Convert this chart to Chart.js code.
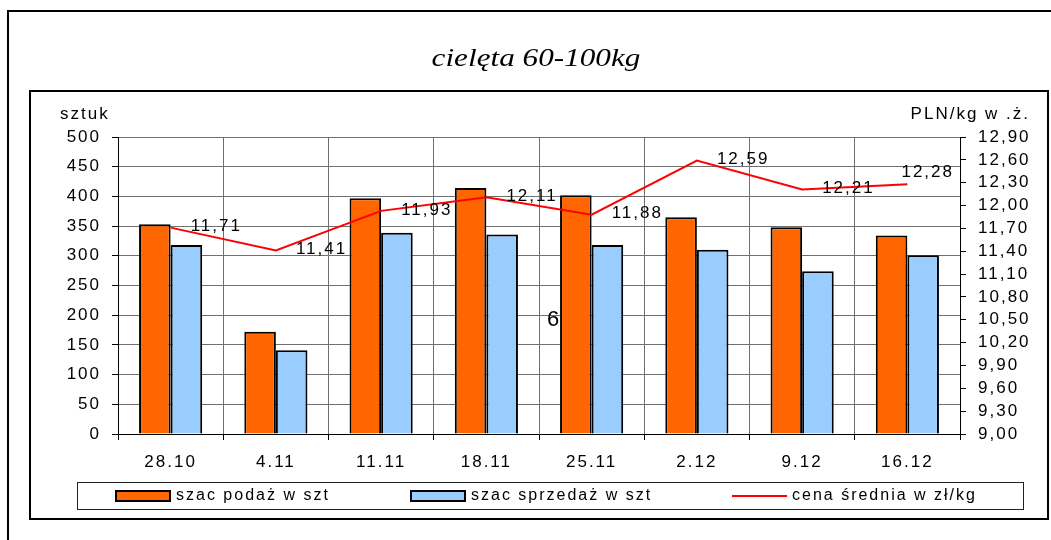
<!DOCTYPE html>
<html>
<head>
<meta charset="utf-8">
<script src="https://cdn.jsdelivr.net/npm/chart.js@4/dist/chart.umd.min.js"></script>
<style>
  html, body { margin: 0; padding: 0; background: #fff; overflow: hidden; }
  body { width: 1051px; height: 540px; position: relative; }
  .frame { position: absolute; box-sizing: border-box; border: 2px solid #000; }
  #outer { left: 7px; top: 10px; width: 1100px; height: 600px; }
  #inner { left: 29px; top: 90px; width: 1020px; height: 430px; }
  #chart { position: absolute; left: 0; top: 0; }
</style>
</head>
<body>
<div class="frame" id="outer"></div>
<div class="frame" id="inner"></div>
<canvas id="chart" width="1051" height="540"></canvas>
<script>
const weeks = ['28.10', '4.11', '11.11', '18.11', '25.11', '2.12', '9.12', '16.12'];
const supply = [353, 172, 397, 414, 402, 365, 348, 334];
const sales = [318, 141, 339, 336, 318, 310, 274, 301];
const price = [11.71, 11.41, 11.93, 12.11, 11.88, 12.59, 12.21, 12.28];
const countTicks = [0, 50, 100, 150, 200, 250, 300, 350, 400, 450, 500];
const priceTicks = [9.00, 9.30, 9.60, 9.90, 10.20, 10.50, 10.80, 11.10, 11.40, 11.70, 12.00, 12.30, 12.60, 12.90];

const FONT = '"Liberation Sans", Arial, sans-serif';
const SERIF = '"Liberation Serif", "Times New Roman", serif';
const fmtPrice = v => v.toFixed(2).replace('.', ',');

// napisy, ramka legendy, tytuł - rysowane ręcznie
const decorations = {
    id: 'decorations',
    beforeDraw(chart) {
        chart.ctx.letterSpacing = '2px';
    },
    afterDatasetsDraw(chart) {
        const ctx = chart.ctx;
        const area = chart.chartArea;
        const meta = chart.getDatasetMeta(2);
        const vals = chart.data.datasets[2].data;
        ctx.save();
        ctx.font = '17px ' + FONT;
        ctx.letterSpacing = '2px';
        ctx.fillStyle = '#000';
        ctx.textBaseline = 'middle';
        ctx.textAlign = 'left';
        meta.data.forEach((pt, i) => {
            const txt = fmtPrice(vals[i]);
            const w = ctx.measureText(txt).width;
            let x = pt.x + 20, y = pt.y - 1;
            if (x + w > area.right) { x = area.right - 6 - w; y = pt.y - 12; }
            ctx.fillText(txt, x, y);
        });
        ctx.restore();
    },
    afterDraw(chart) {
        const ctx = chart.ctx;
        ctx.save();
        ctx.fillStyle = '#000';

        // tytuł
        ctx.letterSpacing = '0px';
        ctx.font = 'italic 26px ' + SERIF;
        ctx.textAlign = 'center';
        ctx.textBaseline = 'alphabetic';
        ctx.save();
        ctx.translate(536, 66);
        ctx.scale(1.2, 1);
        ctx.fillText('cielęta 60-100kg', 0, 0);
        ctx.restore();

        // jednostki osi
        ctx.letterSpacing = '2px';
        ctx.font = '17px ' + FONT;
        ctx.textBaseline = 'middle';
        ctx.textAlign = 'left';
        ctx.fillText('sztuk', 60, 114);
        ctx.textAlign = 'right';
        ctx.fillText('PLN/kg w .ż.', 1030, 114);

        ctx.letterSpacing = '0px';
        ctx.font = '22px ' + FONT;
        ctx.textAlign = 'center';
        ctx.fillText('6', 553, 320);

        // legenda
        ctx.strokeStyle = '#222';
        ctx.lineWidth = 1;
        ctx.strokeRect(77.5, 482.5, 946, 27);
        const slots = [116, 411, 732];
        ctx.font = '16px ' + FONT;
        ctx.letterSpacing = '2px';
        ctx.textAlign = 'left';
        chart.data.datasets.forEach((ds, i) => {
            const x = slots[i], y = 496;
            if (ds.type === 'line') {
                ctx.strokeStyle = ds.borderColor;
                ctx.lineWidth = 2;
                ctx.beginPath();
                ctx.moveTo(x, y);
                ctx.lineTo(x + 55, y);
                ctx.stroke();
            } else {
                ctx.fillStyle = ds.backgroundColor;
                ctx.fillRect(x, y - 5, 54, 10);
                ctx.strokeStyle = '#000';
                ctx.lineWidth = 2;
                ctx.strokeRect(x, y - 5, 54, 10);
            }
            ctx.fillStyle = '#000';
            ctx.fillText(ds.label, x + 60, y);
        });
        ctx.restore();
    }
};

function drawChart() {
    new Chart(document.getElementById('chart'), {
        data: {
            labels: weeks,
            datasets: [
                {
                    type: 'bar',
                    label: 'szac podaż w szt',
                    data: supply,
                    backgroundColor: '#FF6600',
                    borderColor: '#000',
                    borderWidth: 2,
                    yAxisID: 'y',
                    order: 2,
                    categoryPercentage: 0.6,
                    barPercentage: 1.0
                },
                {
                    type: 'bar',
                    label: 'szac sprzedaż w szt',
                    data: sales,
                    backgroundColor: '#99CCFF',
                    borderColor: '#000',
                    borderWidth: 2,
                    yAxisID: 'y',
                    order: 2,
                    categoryPercentage: 0.6,
                    barPercentage: 1.0
                },
                {
                    type: 'line',
                    label: 'cena średnia w zł/kg',
                    data: price,
                    borderColor: '#FF0000',
                    borderWidth: 2,
                    pointRadius: 0,
                    tension: 0,
                    yAxisID: 'y1',
                    order: 1
                }
            ]
        },
        options: {
            responsive: false,
            animation: false,
            devicePixelRatio: 1,
            layout: { padding: { left: 30, right: 9, top: 137, bottom: 66 } },
            plugins: {
                legend: { display: false },
                title: { display: false },
                tooltip: { enabled: false }
            },
            scales: {
                x: {
                    afterFit: s => { s.height = 40; },
                    grid: { color: '#707070', offset: true, tickLength: 6, tickColor: '#000' },
                    border: { color: '#000' },
                    ticks: { color: '#000', font: { family: FONT, size: 17 }, padding: 12, maxRotation: 0, autoSkip: false }
                },
                y: {
                    position: 'left',
                    min: 0,
                    max: 500,
                    afterFit: s => { s.width = 88; },
                    afterBuildTicks: s => { s.ticks = countTicks.map(v => ({ value: v })); },
                    grid: { color: '#707070', tickLength: 6, tickColor: '#000' },
                    border: { color: '#000' },
                    ticks: { color: '#000', font: { family: FONT, size: 17 }, padding: 11, autoSkip: false }
                },
                y1: {
                    position: 'right',
                    min: 9,
                    max: 12.9,
                    afterFit: s => { s.width = 82; },
                    afterBuildTicks: s => { s.ticks = priceTicks.map(v => ({ value: v })); },
                    grid: { drawOnChartArea: false, tickLength: 6, tickColor: '#000' },
                    border: { color: '#000' },
                    ticks: { color: '#000', font: { family: FONT, size: 17 }, padding: 12, autoSkip: false, callback: v => fmtPrice(v) }
                }
            }
        },
        plugins: [decorations]
    });
}

// czcionki muszą być załadowane zanim canvas zacznie rysować
Promise.all([
    document.fonts.load('17px "Liberation Sans"'),
    document.fonts.load('italic 26px "Liberation Serif"')
]).then(drawChart, drawChart);
</script>
</body>
</html>
